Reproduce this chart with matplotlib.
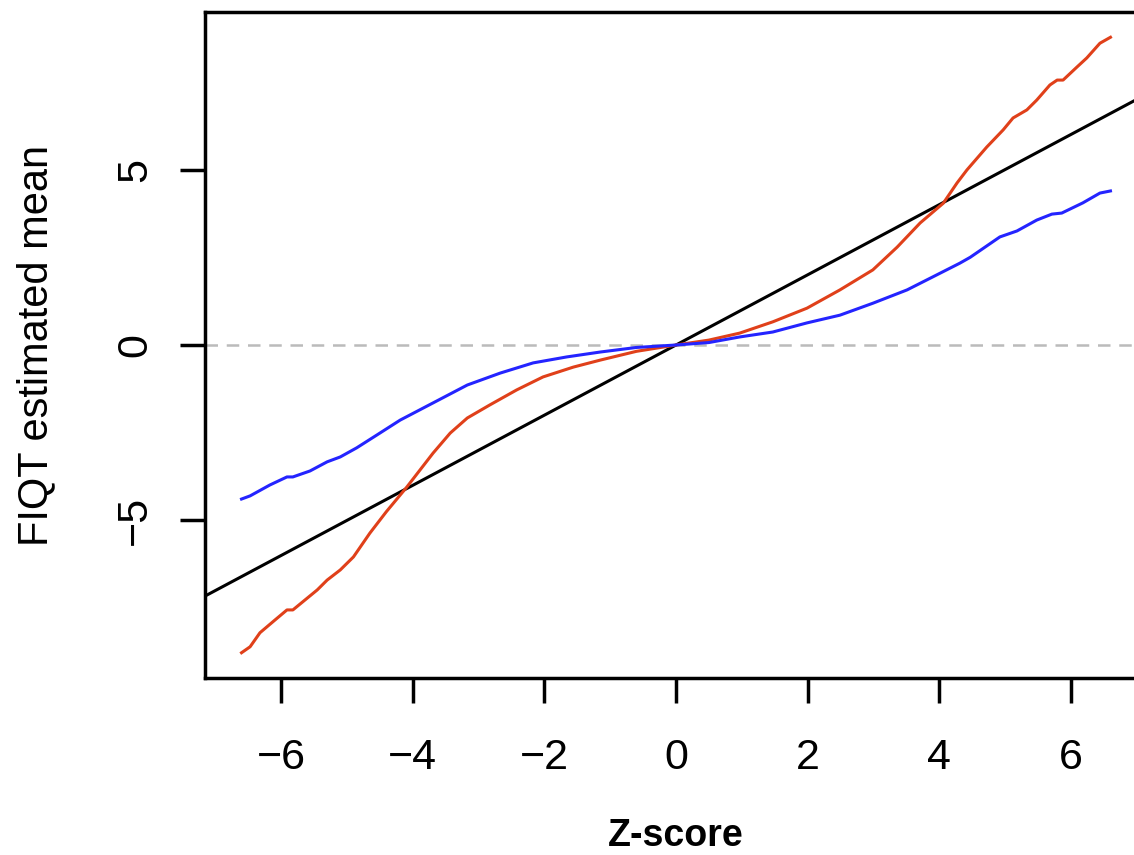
import numpy as np
import matplotlib.pyplot as plt

plt.rcParams['font.family'] = ['Liberation Sans', 'DejaVu Sans']

# --- data ---
z_red = [-6.6, -6.47, -6.32, -6.1, -5.91, -5.82, -5.45, -5.3, -5.1, -4.9, -4.65, -4.4, -4.09,
         -3.69, -3.43, -3.17, -2.83, -2.42, -2.02, -1.56, -1.15, -0.6, 0.0, 0.5, 0.97, 1.47,
         1.99, 2.49, 2.99, 3.36, 3.71, 4.06, 4.27, 4.42, 4.72, 4.97, 5.12, 5.33, 5.48, 5.68,
         5.79, 5.88, 6.09, 6.24, 6.44, 6.6]
mean_red = [-8.77, -8.6, -8.2, -7.85, -7.55, -7.55, -6.98, -6.7, -6.41, -6.04, -5.36, -4.75, -4.05,
            -3.08, -2.51, -2.08, -1.71, -1.28, -0.91, -0.63, -0.43, -0.18, 0.0, 0.14, 0.34, 0.66,
            1.05, 1.57, 2.14, 2.79, 3.48, 4.04, 4.62, 4.99, 5.64, 6.13, 6.47, 6.7, 6.98, 7.41,
            7.55, 7.55, 7.92, 8.18, 8.6, 8.77]

z_blue = [-6.6, -6.47, -6.17, -5.91, -5.82, -5.56, -5.3, -5.1, -4.85, -4.54, -4.19, -3.69, -3.17,
          -2.67, -2.17, -1.66, -1.15, -0.6, 0.0, 0.5, 0.97, 1.47, 1.99, 2.49, 2.99, 3.51, 3.9,
          4.31, 4.47, 4.92, 5.18, 5.48, 5.71, 5.86, 6.18, 6.44, 6.6]
mean_blue = [-4.39, -4.3, -3.99, -3.76, -3.76, -3.59, -3.33, -3.19, -2.93, -2.56, -2.14, -1.65, -1.14,
             -0.8, -0.51, -0.34, -0.2, -0.07, 0.0, 0.07, 0.23, 0.37, 0.63, 0.85, 1.19, 1.57, 1.94,
             2.33, 2.5, 3.08, 3.25, 3.56, 3.73, 3.76, 4.05, 4.33, 4.39]

xlim = (-7.155, 7.155)
ylim = (-9.49, 9.49)
xticks = [-6, -4, -2, 0, 2, 4, 6]
yticks = [-5, 0, 5]

fig = plt.figure(figsize=(11.34, 8.55), dpi=100)
# box runs a little past the right edge, like the cropped original
ax = fig.add_axes([205 / 1134, 177 / 855, 942 / 1134, 666 / 855])

ax.axhline(0, color='#BBBBBB', linestyle=(0, (5, 3.5)), linewidth=1.8, zorder=1)
ax.plot(xlim, xlim, color='black', linewidth=2.2, zorder=2)
ax.plot(z_red, mean_red, color='#E0401A', linewidth=2.2, zorder=3)
ax.plot(z_blue, mean_blue, color='#2424FF', linewidth=2.2, zorder=4)

ax.set_xlim(*xlim)
ax.set_ylim(*ylim)
ax.set_xticks(xticks)
ax.set_yticks(yticks)
ax.set_xticklabels(['\u2212' + str(-t) if t < 0 else str(t) for t in xticks])
ax.set_yticklabels(['\u2212' + str(-t) if t < 0 else str(t) for t in yticks],
                   rotation=90, va='center')

for s in ax.spines.values():
    s.set_linewidth(2.5)
ax.tick_params(axis='both', length=18, width=2.5, labelsize=31)
ax.tick_params(axis='x', pad=25)
ax.tick_params(axis='y', pad=18)

ax.set_xlabel('Z-score', fontsize=27, fontweight='bold', labelpad=29)
ax.set_ylabel('FIQT estimated mean', fontsize=30, labelpad=42)

fig.savefig('out.png', dpi=100)
